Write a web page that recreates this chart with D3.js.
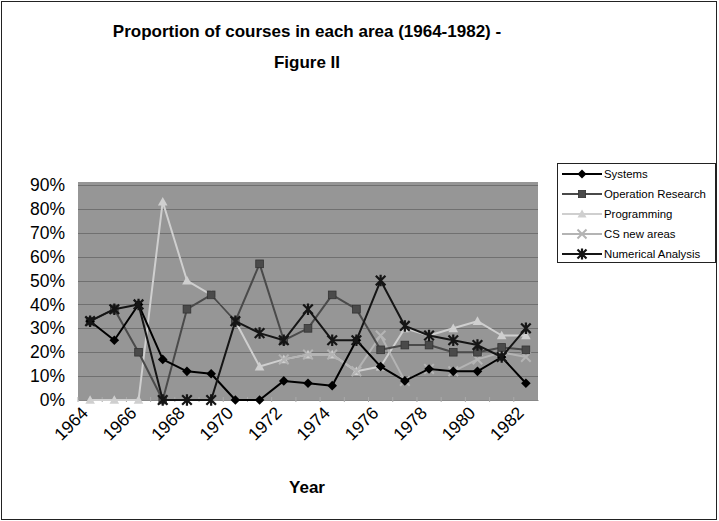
<!DOCTYPE html>
<html>
<head>
<meta charset="utf-8">
<script src="https://cdn.jsdelivr.net/npm/d3@7"></script>
<style>
  html, body { margin: 0; padding: 0; background: #fff; }
  svg { display: block; font-family: Arial, "Liberation Sans", sans-serif; }
</style>
</head>
<body>
<svg id="chart" width="719" height="521"></svg>
<script>
const years = ["1964","1965","1966","1967","1968","1969","1970","1971","1972","1973","1974","1975","1976","1977","1978","1979","1980","1981","1982"];
const tickLabels = ["1964","1966","1968","1970","1972","1974","1976","1978","1980","1982"];
const yTicks = [0, 10, 20, 30, 40, 50, 60, 70, 80, 90];
const seriesNames = ["Systems", "Operation Research", "Programming", "CS new areas", "Numerical Analysis"];
const systems            = [33, 25, 40, 17, 12, 11, 0, 0, 8, 7, 6, 25, 14, 8, 13, 12, 12, 18, 7];
const operationResearch  = [33, 38, 20, 0, 38, 44, 33, 57, 25, 30, 44, 38, 21, 23, 23, 20, 20, 22, 21];
const programming        = [0, 0, 0, 83, 50, 44, 33, 14, 17, 19, 19, 12, 14, 30, 27, 30, 33, 27, 27];
const csNewAreas         = [null, null, null, null, null, null, null, null, 17, 19, 19, 12, 27, 8, 13, 12, 17, 20, 18];
const numericalAnalysis  = [33, 38, 40, 0, 0, 0, 33, 28, 25, 38, 25, 25, 50, 31, 27, 25, 23, 18, 30];

const seriesValues = [systems, operationResearch, programming, csNewAreas, numericalAnalysis];
const colors = ["#000000", "#4a4a4a", "#cfcfcf", "#b4b4b4", "#151515"];
const markers = ["diamond", "square", "triangle", "cross", "star"];

const svg = d3.select("#chart");
const W = 719, H = 521;

// chart border
svg.append("rect").attr("x", 1.5).attr("y", 1.5).attr("width", W - 4).attr("height", H - 3)
  .attr("fill", "#fff").attr("stroke", "#222").attr("stroke-width", 1);

const plot = { left: 78, right: 538, top: 185, bottom: 400 };

const x = d3.scaleBand().domain(years).range([plot.left, plot.right]).padding(0);
const y = d3.scaleLinear().domain([0, 90]).range([plot.bottom, plot.top]);

// plot background
svg.append("rect").attr("x", plot.left).attr("y", plot.top - 3)
  .attr("width", plot.right - plot.left).attr("height", plot.bottom - plot.top + 3)
  .attr("fill", "#969696");

// gridlines
svg.append("g").selectAll("line").data(yTicks.filter(d => d > 0)).join("line")
  .attr("x1", plot.left).attr("x2", plot.right)
  .attr("y1", d => Math.round(y(d)) + 0.5).attr("y2", d => Math.round(y(d)) + 0.5)
  .attr("stroke", "#707070").attr("stroke-width", 1);

// y axis labels
const yAxis = d3.axisLeft(y).tickValues(yTicks).tickFormat(d => d + "%").tickSize(0).tickPadding(13);
const gy = svg.append("g").attr("transform", `translate(${plot.left},0)`).call(yAxis);
gy.select(".domain").remove();
gy.selectAll("text").attr("font-size", 17.5).attr("fill", "#000").attr("font-family", "Arial, 'Liberation Sans', sans-serif");

// x axis
const xAxis = d3.axisBottom(x).tickValues(tickLabels).tickSize(0).tickPadding(0);
const gx = svg.append("g").attr("transform", `translate(0,${plot.bottom})`).call(xAxis);
gx.select(".domain").attr("stroke", "#888");
gx.selectAll("text")
  .attr("font-size", 17.5).attr("fill", "#000").attr("font-family", "Arial, 'Liberation Sans', sans-serif")
  .attr("text-anchor", "end")
  .attr("dy", null).attr("y", 0)
  .attr("transform", "translate(-1,14) rotate(-45)");

// small tick marks along the bottom
svg.append("g").selectAll("line").data(years).join("line")
  .attr("x1", d => x(d)).attr("x2", d => x(d))
  .attr("y1", plot.bottom - 3).attr("y2", plot.bottom + 2)
  .attr("stroke", "#aaa").attr("stroke-width", 1);

// marker symbol generator
function drawMarker(g, type, color, size) {
  const s = size;
  if (type === "diamond") {
    g.append("path").attr("d", `M0,${-s}L${s},0L0,${s}L${-s},0Z`).attr("fill", color);
  } else if (type === "square") {
    g.append("rect").attr("x", -s * 0.8).attr("y", -s * 0.8).attr("width", s * 1.6).attr("height", s * 1.6)
      .attr("fill", color).attr("stroke", "#333").attr("stroke-width", 0.8);
  } else if (type === "triangle") {
    g.append("path").attr("d", `M0,${-s}L${s},${s * 0.8}L${-s},${s * 0.8}Z`).attr("fill", color);
  } else if (type === "cross") {
    g.append("path").attr("d", `M${-s},${-s}L${s},${s}M${-s},${s}L${s},${-s}`).attr("stroke", color).attr("stroke-width", 2);
  } else if (type === "star") {
    g.append("path").attr("d", `M${-s},${-s}L${s},${s}M${-s},${s}L${s},${-s}M0,${-s * 1.2}L0,${s * 1.2}`)
      .attr("stroke", color).attr("stroke-width", 2.2);
  }
}

const line = d3.line()
  .defined(d => d.v !== null)
  .x(d => x(d.year) + x.bandwidth() / 2)
  .y(d => y(d.v));

// draw series (light ones first so dark ones are on top)
const order = [2, 3, 1, 0, 4];
order.forEach(i => {
  const data = years.map((yr, j) => ({ year: yr, v: seriesValues[i][j] }));
  svg.append("path").datum(data)
    .attr("d", line).attr("fill", "none")
    .attr("stroke", colors[i]).attr("stroke-width", 2).attr("stroke-linejoin", "round");
  const g = svg.append("g");
  data.filter(d => d.v !== null).forEach(d => {
    const mg = g.append("g").attr("transform", `translate(${x(d.year) + x.bandwidth() / 2},${y(d.v)})`);
    drawMarker(mg, markers[i], colors[i], 4.8);
  });
});

// title
const title = svg.append("text").attr("text-anchor", "middle").attr("font-weight", "bold")
  .attr("font-size", 17).attr("fill", "#000");
title.append("tspan").attr("x", 307).attr("y", 37).text("Proportion of courses in each area (1964-1982) -");
title.append("tspan").attr("x", 307).attr("y", 68).text("Figure II");

// x axis title
svg.append("text").attr("x", 307).attr("y", 493).attr("text-anchor", "middle")
  .attr("font-weight", "bold").attr("font-size", 17).attr("fill", "#000").text("Year");

// legend
const lg = svg.append("g").attr("transform", "translate(557,163)");
lg.append("rect").attr("x", 0.5).attr("y", 0.5).attr("width", 158).attr("height", 99)
  .attr("fill", "#fff").attr("stroke", "#222").attr("stroke-width", 1);
seriesNames.forEach((name, i) => {
  const row = lg.append("g").attr("transform", `translate(0,${11 + i * 20})`);
  row.append("line").attr("x1", 5).attr("x2", 45).attr("y1", 0).attr("y2", 0)
    .attr("stroke", colors[i]).attr("stroke-width", 2);
  const mg = row.append("g").attr("transform", "translate(25,0)");
  drawMarker(mg, markers[i], colors[i], 4.5);
  row.append("text").attr("x", 47).attr("y", 4).attr("font-size", 11.4).attr("fill", "#000").text(name);
});
</script>
</body>
</html>
